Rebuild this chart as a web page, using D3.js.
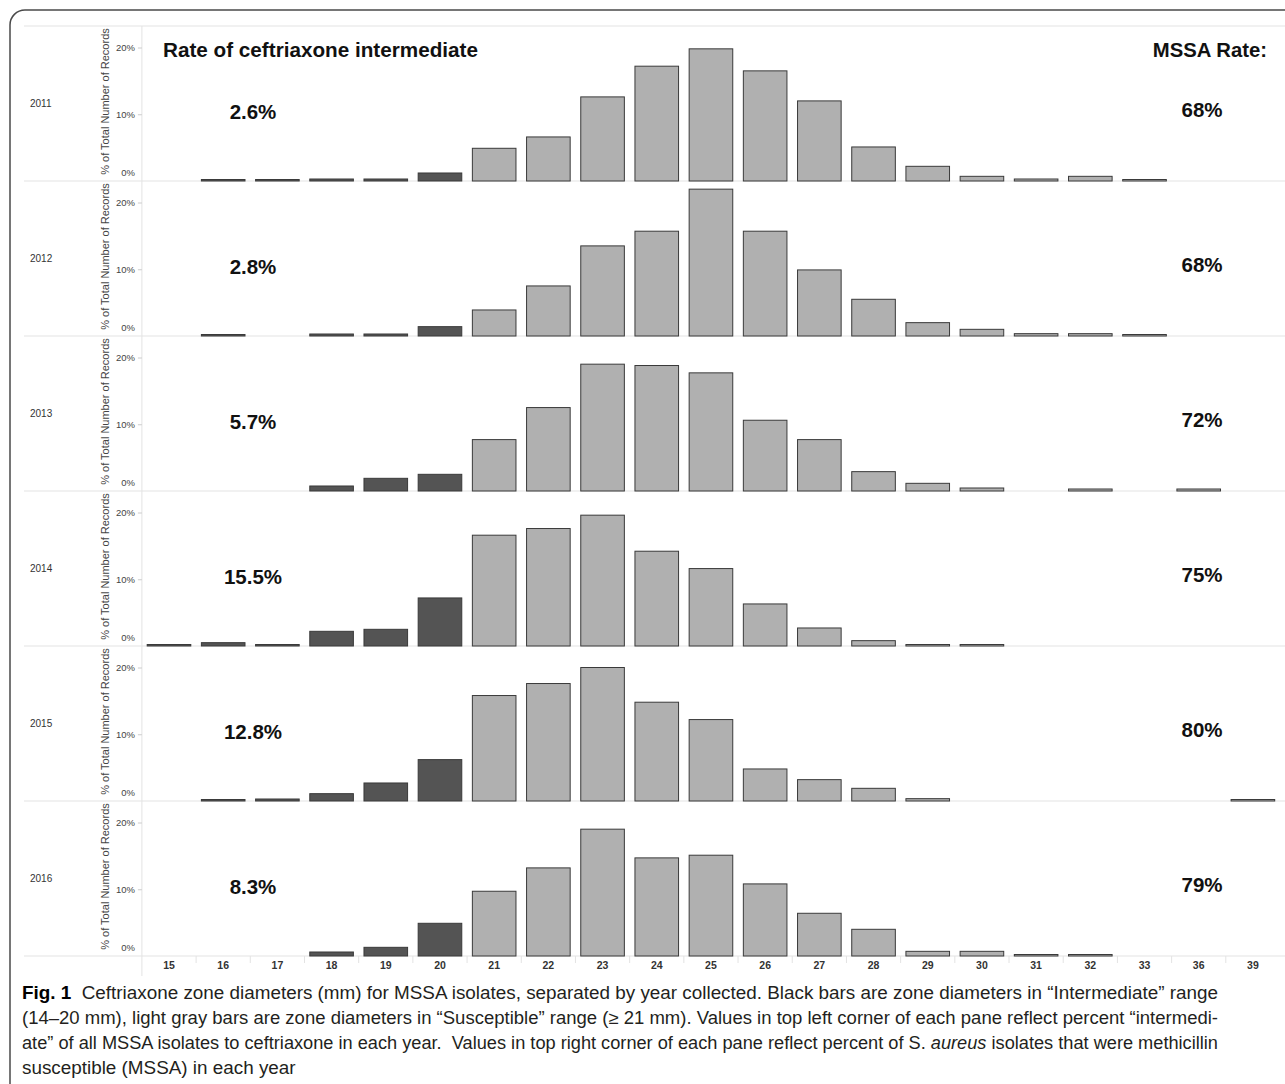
<!DOCTYPE html>
<html>
<head>
<meta charset="utf-8">
<script src="https://cdn.jsdelivr.net/npm/d3@7"></script>
<style>
  html, body { margin: 0; padding: 0; background: #fff; }
  svg { display: block; }
</style>
</head>
<body>
<svg id="chart" width="1285" height="1084"></svg>
<script>
// ---------- DATA ----------
const categories = ["15","16","17","18","19","20","21","22","23","24","25","26","27","28","29","30","31","32","33","36","39"];
const intermediateCategories = ["15","16","17","18","19","20"];
const years = ["2011","2012","2013","2014","2015","2016"];
const values2011 = [0, 0.15, 0.15, 0.3, 0.3, 1.2, 4.9, 6.6, 12.6, 17.2, 19.8, 16.5, 12.0, 5.1, 2.2, 0.7, 0.3, 0.7, 0.15, 0, 0];
const values2012 = [0, 0.15, 0, 0.3, 0.3, 1.4, 3.9, 7.5, 13.5, 15.7, 22.0, 15.7, 9.9, 5.5, 2.0, 1.0, 0.35, 0.35, 0.17, 0, 0];
const values2013 = [0, 0, 0, 0.75, 1.9, 2.5, 7.7, 12.5, 19.0, 18.8, 17.7, 10.6, 7.7, 2.9, 1.15, 0.45, 0, 0.3, 0, 0.3, 0];
const values2014 = [0.15, 0.5, 0.15, 2.2, 2.5, 7.2, 16.6, 17.6, 19.6, 14.2, 11.6, 6.3, 2.7, 0.8, 0.2, 0.2, 0, 0, 0, 0, 0];
const values2015 = [0, 0.2, 0.3, 1.1, 2.7, 6.2, 15.8, 17.6, 20.0, 14.8, 12.2, 4.8, 3.2, 1.9, 0.35, 0, 0, 0, 0, 0, 0.2];
const values2016 = [0, 0, 0, 0.6, 1.3, 4.9, 9.7, 13.2, 19.0, 14.7, 15.1, 10.8, 6.4, 4.0, 0.7, 0.7, 0.2, 0.2, 0, 0, 0];
const intermediateRates = ["2.6%","2.8%","5.7%","15.5%","12.8%","8.3%"];
const mssaRates = ["68%","68%","72%","75%","80%","79%"];
const yTickValues = [0, 10, 20];
const yTickLabels = ["0%","10%","20%"];
const yAxisTitle = "% of Total Number of Records";
const leftHeader = "Rate of ceftriaxone intermediate";
const rightHeader = "MSSA Rate:";
const captionLines = [
  [{t:"Fig. 1", b:true}, {t:"  Ceftriaxone zone diameters (mm) for MSSA isolates, separated by year collected. Black bars are zone diameters in \u201cIntermediate\u201d range"}],
  [{t:"(14\u201320 mm), light gray bars are zone diameters in \u201cSusceptible\u201d range (\u2265 21 mm). Values in top left corner of each pane reflect percent \u201cintermedi-"}],
  [{t:"ate\u201d of all MSSA isolates to ceftriaxone in each year.  Values in top right corner of each pane reflect percent of "}, {t:"S. ", i:false}, {t:"aureus", i:true}, {t:" isolates that were methicillin"}],
  [{t:"susceptible (MSSA) in each year"}]
];
const seriesByYear = [values2011, values2012, values2013, values2014, values2015, values2016];

// ---------- LAYOUT ----------
const svg = d3.select("#chart");
const W = 1285;
const plotTop = 26, paneH = 155;
const axisX = 141.9, plotRight = 1280;
const lineLeft = 24;
const fontMain = "Liberation Sans, Arial, sans-serif";

// frame
svg.append("rect")
  .attr("x", 10).attr("y", 10).attr("width", 1300).attr("height", 1100)
  .attr("rx", 15).attr("ry", 15)
  .attr("fill", "none").attr("stroke", "#4a4a4a").attr("stroke-width", 1.5);

const x = d3.scaleBand().domain(categories).range([axisX, plotRight]).paddingInner(0.177).paddingOuter(0.0885);
const yBand = d3.scaleBand().domain(years).range([plotTop, plotTop + paneH * years.length]);
const yMaxPct = paneH / 6.675;

const gridColor = "#e3e3e3";

// pane separator lines
svg.append("g").selectAll("line")
  .data(d3.range(years.length + 1))
  .join("line")
  .attr("x1", lineLeft).attr("x2", W)
  .attr("y1", i => plotTop + i * paneH).attr("y2", i => plotTop + i * paneH)
  .attr("stroke", gridColor).attr("stroke-width", 1);

// vertical axis line
svg.append("line")
  .attr("x1", axisX).attr("x2", axisX)
  .attr("y1", plotTop).attr("y2", plotTop + paneH * years.length + 20)
  .attr("stroke", gridColor).attr("stroke-width", 1);

years.forEach((yr, i) => {
  const top = yBand(yr);
  const bottom = top + paneH;
  const y = d3.scaleLinear().domain([0, yMaxPct]).range([bottom, top]);
  const g = svg.append("g");

  // year label
  g.append("text")
    .attr("x", 30).attr("y", top + paneH / 2 + 3)
    .attr("font-family", fontMain)
    .attr("font-size", 10).attr("fill", "#333")
    .text(yr);

  // y axis title
  g.append("text")
    .attr("transform", `translate(108.5,${top + paneH / 2 - 2}) rotate(-90)`)
    .attr("text-anchor", "middle")
    .attr("font-family", fontMain)
    .attr("font-size", 11).attr("fill", "#444")
    .text(yAxisTitle);

  // y axis ticks
  const axis = d3.axisLeft(y).tickValues(yTickValues.slice(1)).tickSize(4).tickFormat("");
  const ag = g.append("g").attr("transform", `translate(${axisX},0)`).call(axis);
  ag.select(".domain").remove();
  ag.selectAll(".tick line").attr("stroke", "#ccc");
  yTickValues.forEach((v, k) => {
    g.append("text")
      .attr("x", axisX - 7)
      .attr("y", v === 0 ? bottom - 5 : y(v) + 3.5)
      .attr("text-anchor", "end")
      .attr("font-family", fontMain)
      .attr("font-size", 9.5).attr("fill", "#444")
      .text(yTickLabels[k]);
  });

  // bars
  const vals = seriesByYear[i];
  const data = categories.map((c, k) => ({c, v: vals[k]})).filter(d => d.v > 0);
  g.selectAll("rect.bar").data(data).join("rect")
    .attr("class", "bar")
    .attr("x", d => x(d.c) + 0.5)
    .attr("width", x.bandwidth() - 1)
    .attr("y", d => Math.min(y(d.v), bottom - 1.5))
    .attr("height", d => Math.max(bottom - y(d.v), 1.5))
    .attr("fill", d => intermediateCategories.includes(d.c) ? "#545454" : "#b0b0b0")
    .attr("stroke", "#3a3a3a").attr("stroke-width", 1);

  // rate labels
  g.append("text")
    .attr("x", 253).attr("y", top + 93)
    .attr("text-anchor", "middle")
    .attr("font-family", fontMain)
    .attr("font-weight", "bold").attr("font-size", 20.5).attr("fill", "#111")
    .text(intermediateRates[i]);
  g.append("text")
    .attr("x", 1202).attr("y", top + 91)
    .attr("text-anchor", "middle")
    .attr("font-family", fontMain)
    .attr("font-weight", "bold").attr("font-size", 20.5).attr("fill", "#111")
    .text(mssaRates[i]);

  if (i === 0) {
    g.append("text")
      .attr("x", 163).attr("y", top + 31)
      .attr("font-family", fontMain)
      .attr("font-weight", "bold").attr("font-size", 20.7).attr("fill", "#111")
      .text(leftHeader);
    g.append("text")
      .attr("x", 1267).attr("y", top + 31)
      .attr("text-anchor", "end")
      .attr("font-family", fontMain)
      .attr("font-weight", "bold").attr("font-size", 20.3).attr("fill", "#111")
      .text(rightHeader);
  }
});

// x axis
const axisY = plotTop + paneH * years.length;
const xg = svg.append("g").attr("transform", `translate(0,${axisY})`)
  .call(d3.axisBottom(x).tickSize(0).tickPadding(6));
xg.select(".domain").remove();
xg.selectAll(".tick text")
  .attr("font-family", "Liberation Sans Narrow, Arial Narrow, Liberation Sans, sans-serif")
  .attr("font-weight", "bold").attr("font-size", 10.5).attr("fill", "#333");
// band boundary ticks
svg.append("g").selectAll("line")
  .data(categories.slice(1))
  .join("line")
  .attr("x1", d => x(d) - x.step() * x.paddingInner() / 2)
  .attr("x2", d => x(d) - x.step() * x.paddingInner() / 2)
  .attr("y1", axisY).attr("y2", axisY + 7)
  .attr("stroke", gridColor);

// caption
const capX = 22, capRight = 1218, capY0 = 999, capDY = 25;
let ratio = 1;
captionLines.forEach((parts, li) => {
  const t = svg.append("text")
    .attr("x", capX).attr("y", capY0 + li * capDY)
    .attr("font-family", fontMain)
    .attr("font-size", 17.5).attr("fill", "#231f20")
    .attr("xml:space", "preserve");
  parts.forEach(p => {
    t.append("tspan")
      .attr("font-weight", p.b ? "bold" : null)
      .attr("font-style", p.i ? "italic" : null)
      .attr("fill", p.b ? "#000" : null)
      .text(p.t);
  });
  const natural = t.node().getComputedTextLength();
  if (li < 3) {
    if (li === 0) ratio = (capRight - capX) / natural;
    t.attr("textLength", capRight - capX).attr("lengthAdjust", "spacingAndGlyphs");
  } else {
    t.attr("textLength", natural * ratio).attr("lengthAdjust", "spacingAndGlyphs");
  }
});
</script>
</body>
</html>
